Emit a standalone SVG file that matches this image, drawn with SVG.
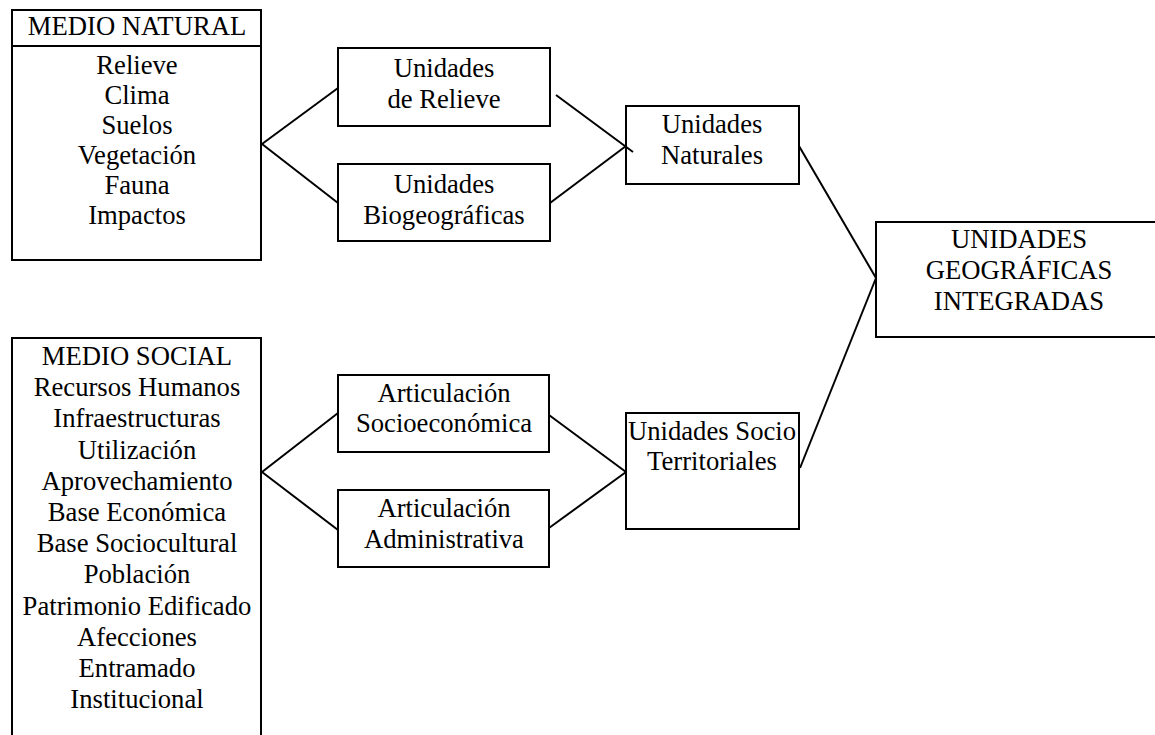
<svg xmlns="http://www.w3.org/2000/svg" width="1155" height="735" viewBox="0 0 1155 735">
<style>
.box{fill:#fff;stroke:#000;stroke-width:2}
text{font-family:'Liberation Serif','Times New Roman',Times,'DejaVu Serif',serif;font-size:26.67px;fill:#000;text-anchor:middle}
.c line{stroke:#000;stroke-width:2}
</style>
<rect width="1155" height="735" fill="#fff"/>
<g id="medio-natural">
<rect class="box" x="12" y="10" width="249" height="250"/>
<line x1="12" y1="46" x2="261" y2="46" stroke="#000" stroke-width="2"/>
<text x="137" y="35">MEDIO NATURAL</text>
<text x="137" y="74">Relieve</text>
<text x="137" y="104">Clima</text>
<text x="137" y="134">Suelos</text>
<text x="137" y="164">Vegetación</text>
<text x="137" y="194">Fauna</text>
<text x="137" y="224">Impactos</text>
</g>
<g id="medio-social">
<rect class="box" x="12" y="338" width="249" height="410"/>
<text x="137" y="365">MEDIO SOCIAL</text>
<text x="137" y="396">Recursos Humanos</text>
<text x="137" y="427">Infraestructuras</text>
<text x="137" y="459">Utilización</text>
<text x="137" y="490">Aprovechamiento</text>
<text x="137" y="521">Base Económica</text>
<text x="137" y="552">Base Sociocultural</text>
<text x="137" y="583">Población</text>
<text x="137" y="615">Patrimonio Edificado</text>
<text x="137" y="646">Afecciones</text>
<text x="137" y="677">Entramado</text>
<text x="137" y="708">Institucional</text>
</g>
<g id="unidades-relieve">
<rect class="box" x="338" y="48" width="212" height="78"/>
<text x="444" y="77">Unidades</text>
<text x="444" y="108">de Relieve</text>
</g>
<g id="unidades-biogeograficas">
<rect class="box" x="338" y="164" width="212" height="77"/>
<text x="444" y="193">Unidades</text>
<text x="444" y="224">Biogeográficas</text>
</g>
<g id="articulacion-socioeconomica">
<rect class="box" x="338" y="375" width="211" height="77"/>
<text x="444" y="402">Articulación</text>
<text x="444" y="432">Socioeconómica</text>
</g>
<g id="articulacion-administrativa">
<rect class="box" x="338" y="490" width="211" height="77"/>
<text x="444" y="517">Articulación</text>
<text x="444" y="548">Administrativa</text>
</g>
<g id="unidades-naturales">
<rect class="box" x="626" y="106" width="173" height="78"/>
<text x="712" y="133">Unidades</text>
<text x="712" y="164">Naturales</text>
</g>
<g id="unidades-socio-territoriales">
<rect class="box" x="626" y="413" width="173" height="116"/>
<text x="712" y="440">Unidades Socio</text>
<text x="712" y="470">Territoriales</text>
</g>
<g id="unidades-geograficas-integradas">
<rect class="box" x="876" y="222" width="290" height="115"/>
<text x="1019" y="248">UNIDADES</text>
<text x="1019" y="279">GEOGRÁFICAS</text>
<text x="1019" y="310">INTEGRADAS</text>
</g>
<g id="connectors" class="c">
<line x1="262" y1="144" x2="338" y2="88"/>
<line x1="262" y1="144" x2="338" y2="203"/>
<line x1="556" y1="95" x2="633" y2="152"/>
<line x1="550" y1="203" x2="626" y2="146"/>
<line x1="799" y1="146" x2="876" y2="278"/>
<line x1="800" y1="468" x2="876" y2="278"/>
<line x1="262" y1="472" x2="338" y2="413"/>
<line x1="262" y1="472" x2="338" y2="530"/>
<line x1="549" y1="415" x2="626" y2="472"/>
<line x1="549" y1="528" x2="626" y2="472"/>
</g>
</svg>
